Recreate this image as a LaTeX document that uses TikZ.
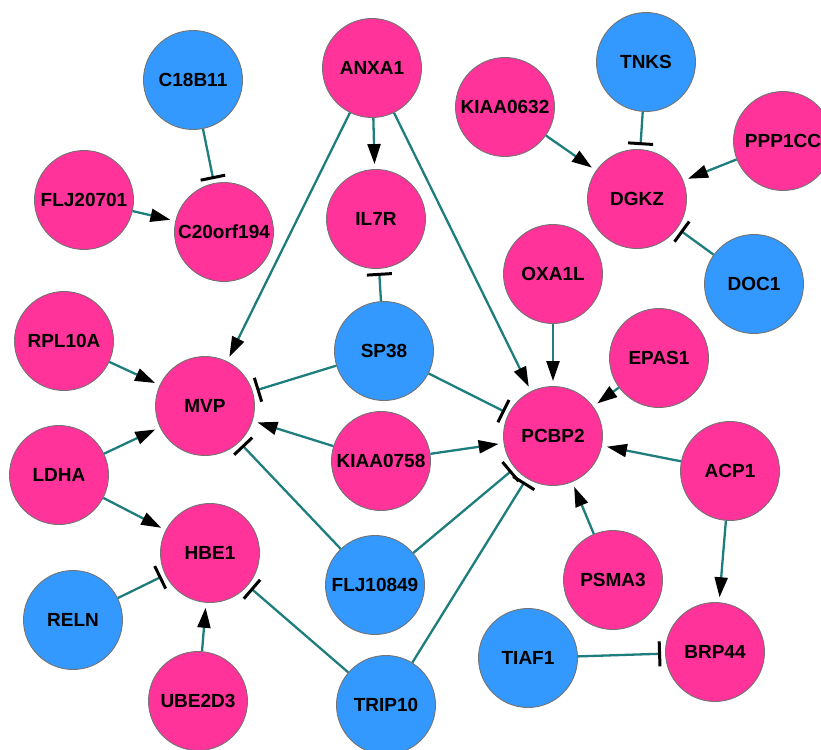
\documentclass[tikz,border=0pt]{standalone}
\usepackage{fontspec}
\setmainfont{Liberation Sans}
\usetikzlibrary{arrows.meta}
\definecolor{genepink}{RGB}{255,51,153}
\definecolor{geneblue}{RGB}{51,153,255}
\definecolor{edgeteal}{RGB}{30,125,125}
\definecolor{rimgray}{RGB}{115,115,115}
\begin{document}
\begin{tikzpicture}[x=1pt,y=-1pt,
  gene/.style={circle, minimum size=99pt, inner sep=0pt, draw=rimgray, line width=0.9pt,
    font=\fontsize{19}{21}\selectfont\bfseries},
  up/.style={gene, fill=genepink},
  down/.style={gene, fill=geneblue},
  link/.style={draw=edgeteal, line width=2.3pt},
  activates/.style={link, -{Triangle[length=20pt,width=13pt,color=black]}, shorten >=5pt},
  inhibits/.style={link, -{Bar[width=25pt,line width=3pt,color=black]}, shorten >=4pt},
]
\useasboundingbox (0,0) rectangle (821,749);

% genes
\node[down] (C18B11)   at (193,80)  {C18B11};
\node[up]   (ANXA1)    at (372,68)  {ANXA1};
\node[down] (TNKS)     at (646,62)  {TNKS};
\node[up]   (KIAA0632) at (505,107) {KIAA0632};
\node[up]   (PPP1CC)   at (783,141) {PPP1CC};
\node[up]   (FLJ20701) at (84,200)  {FLJ20701};
\node[up]   (C20orf194) at (224,232) {C20orf194};
\node[up]   (IL7R)     at (376,219) {IL7R};
\node[up]   (DGKZ)     at (637,199) {DGKZ};
\node[up]   (OXA1L)    at (553,274) {OXA1L};
\node[down] (DOC1)     at (754,284) {DOC1};
\node[up]   (RPL10A)   at (64,341)  {RPL10A};
\node[down] (SP38)     at (384,351) {SP38};
\node[up]   (EPAS1)    at (659,358) {EPAS1};
\node[up]   (MVP)      at (205,406) {MVP};
\node[up]   (PCBP2)    at (553,436) {PCBP2};
\node[up]   (KIAA0758) at (381,461) {KIAA0758};
\node[up]   (LDHA)     at (59,475)  {LDHA};
\node[up]   (ACP1)     at (730,471) {ACP1};
\node[up]   (HBE1)     at (210,553) {HBE1};
\node[down] (FLJ10849) at (375,585) {FLJ10849};
\node[up]   (PSMA3)    at (613,580) {PSMA3};
\node[down] (RELN)     at (73,620)  {RELN};
\node[up]   (BRP44)    at (715,652) {BRP44};
\node[down] (TIAF1)    at (528,658) {TIAF1};
\node[up]   (UBE2D3)   at (198,701) {UBE2D3};
\node[down] (TRIP10)   at (386,705) {TRIP10};

% interactions
\draw[inhibits]  (C18B11) -- (C20orf194);
\draw[activates] (FLJ20701) -- (C20orf194);
\draw[activates] (ANXA1) -- (IL7R);
\draw[activates] (ANXA1) -- (MVP);
\draw[activates] (ANXA1) -- (PCBP2);
\draw[inhibits]  (SP38) -- (IL7R);
\draw[inhibits]  (SP38) -- (MVP);
\draw[inhibits]  (SP38) -- (PCBP2);
\draw[activates] (KIAA0632) -- (DGKZ);
\draw[inhibits]  (TNKS) -- (DGKZ);
\draw[activates] (PPP1CC) -- (DGKZ);
\draw[inhibits]  (DOC1) -- (DGKZ);
\draw[activates] (OXA1L) -- (PCBP2);
\draw[activates] (EPAS1) -- (PCBP2);
\draw[activates] (ACP1) -- (PCBP2);
\draw[activates] (ACP1) -- (BRP44);
\draw[activates] (PSMA3) -- (PCBP2);
\draw[activates] (KIAA0758) -- (PCBP2);
\draw[activates] (KIAA0758) -- (MVP);
\draw[activates] (RPL10A) -- (MVP);
\draw[activates] (LDHA) -- (MVP);
\draw[activates] (LDHA) -- (HBE1);
\draw[inhibits]  (FLJ10849) -- (MVP);
\draw[inhibits]  (FLJ10849) -- (PCBP2);
\draw[inhibits]  (TRIP10) -- (PCBP2);
\draw[inhibits]  (TRIP10) -- (HBE1);
\draw[inhibits]  (RELN) -- (HBE1);
\draw[activates] (UBE2D3) -- (HBE1);
\draw[inhibits]  (TIAF1) -- (BRP44);
\end{tikzpicture}
\end{document}
